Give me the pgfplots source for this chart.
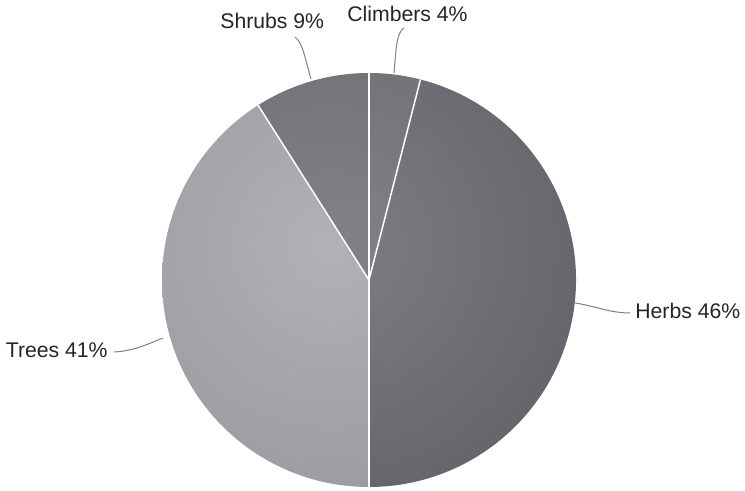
\documentclass[border=0pt]{standalone}
\usepackage{pgfplots}
\pgfplotsset{compat=1.18}
\usepackage{fontspec}
\setmainfont{Liberation Sans}
\definecolor{txt}{HTML}{252525}
\definecolor{lead}{HTML}{808080}
% inner / outer colours of each slice's radial gradient
\pgfdeclareradialshading{shA}{\pgfpoint{0bp}{0bp}}{rgb(0bp)=(0.508,0.512,0.532); rgb(50bp)=(0.345,0.349,0.368)}
\pgfdeclareradialshading{shB}{\pgfpoint{0bp}{0bp}}{rgb(0bp)=(0.494,0.498,0.518); rgb(50bp)=(0.298,0.302,0.322)}
\pgfdeclareradialshading{shC}{\pgfpoint{0bp}{0bp}}{rgb(0bp)=(0.694,0.698,0.718); rgb(50bp)=(0.518,0.522,0.541)}
\pgfdeclareradialshading{shD}{\pgfpoint{0bp}{0bp}}{rgb(0bp)=(0.508,0.512,0.532); rgb(50bp)=(0.345,0.349,0.368)}
\begin{document}
\begin{tikzpicture}
\begin{axis}[
  scale only axis, width=372.5pt, height=245.5pt,
  xmin=0, xmax=745, ymin=0, ymax=491,
  hide axis, clip=false]
% slices: percent / shading (Climbers, Herbs, Trees, Shrubs; clockwise from top)
\pgfplotsextra{
  \path (axis cs:0,0) rectangle (axis cs:745,491);
  \gdef\s{90}
  \foreach \p/\sh in {4/shA, 46/shB, 41/shC, 9/shD} {
    \pgfmathsetmacro\e{\s-3.6*\p}
    \begin{scope}
      \clip (axis cs:369,211) -- ++(\s:103.5pt) arc[start angle=\s, end angle=\e, radius=103.5pt] -- cycle;
      \shade[shading=\sh] (axis cs:330,246) circle[radius=130pt];
    \end{scope}
    \xdef\s{\e}
  }
  \gdef\s{90}
  \foreach \p in {4,46,41,9} {
    \draw[white, line width=0.75pt] (axis cs:369,211) -- ++(\s:103.5pt);
    \pgfmathsetmacro\e{\s-3.6*\p}
    \xdef\s{\e}
  }
  \draw[lead, line width=0.5pt] (axis cs:311,412) .. controls (axis cs:305,432) and (axis cs:303,448) .. (axis cs:295,454);
  \draw[lead, line width=0.5pt] (axis cs:394,418) .. controls (axis cs:396,440) and (axis cs:396,458) .. (axis cs:404,463);
  \draw[lead, line width=0.5pt] (axis cs:575,188) .. controls (axis cs:595,185) and (axis cs:610,178) .. (axis cs:630,178);
  \draw[lead, line width=0.5pt] (axis cs:114,139) .. controls (axis cs:135,140) and (axis cs:150,148) .. (axis cs:163,153);
  \node[anchor=base west, inner sep=0pt, txt, font=\fontsize{10.6}{12}\selectfont] at (axis cs:635,172) {Herbs 46\%};
  \node[anchor=base east, inner sep=0pt, txt, font=\fontsize{10.6}{12}\selectfont] at (axis cs:108,133) {Trees 41\%};
  \node[anchor=base west, inner sep=0pt, txt, font=\fontsize{10.6}{12}\selectfont] at (axis cs:220,462) {Shrubs 9\%};
  \node[anchor=base west, inner sep=0pt, txt, font=\fontsize{10.6}{12}\selectfont] at (axis cs:347,469) {Climbers 4\%};
}
\end{axis}
\end{tikzpicture}
\end{document}
